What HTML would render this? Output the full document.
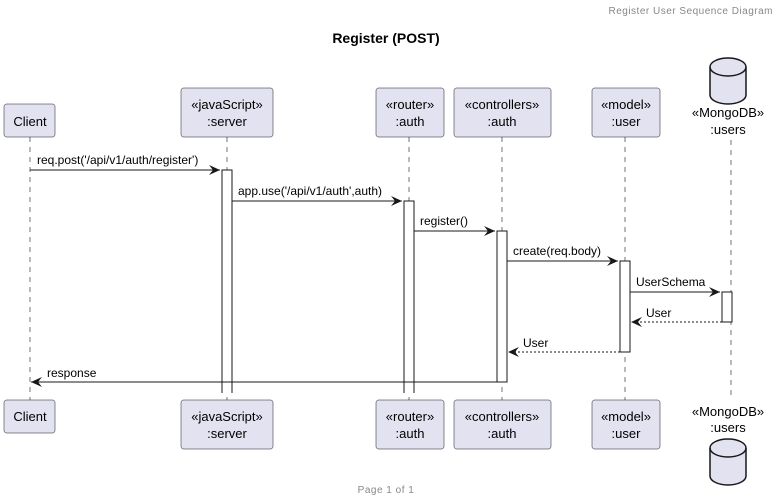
<!DOCTYPE html>
<html><head><meta charset="utf-8"><style>
html,body{margin:0;padding:0;background:#fff;}
svg{display:block;font-family:"Liberation Sans",sans-serif;}
</style></head><body>
<svg width="780" height="502" viewBox="0 0 780 502" xmlns="http://www.w3.org/2000/svg">
<defs>
<marker id="a" markerWidth="12" markerHeight="10" refX="11" refY="5" orient="auto" markerUnits="userSpaceOnUse"><path d="M0,0 L11,5 L0,10 L4,5 Z" fill="#181818"/></marker>
</defs>
<text x="773" y="14" font-size="10" fill="#888" text-anchor="end" letter-spacing="0.5">Register User Sequence Diagram</text>
<text x="386" y="43" font-size="14" font-weight="bold" text-anchor="middle" fill="#000">Register (POST)</text>
<g stroke="#181818" stroke-width="0.6" stroke-dasharray="5,5">
<line x1="30" y1="137" x2="30" y2="400"/>
<line x1="227" y1="137" x2="227" y2="400"/>
<line x1="409" y1="137" x2="409" y2="400"/>
<line x1="502" y1="137" x2="502" y2="400"/>
<line x1="625" y1="137" x2="625" y2="400"/>
<line x1="731" y1="140" x2="731" y2="400"/>
</g>
<g fill="#fff" stroke="#181818" stroke-width="1">
<path d="M222,393 L222,170 L232,170 L232,393"/>
<path d="M404,393 L404,201 L414,201 L414,393"/>
<rect x="497" y="231" width="10" height="151"/>
<rect x="620" y="261" width="10" height="91"/>
<rect x="722" y="292" width="10" height="30"/>
</g>
<g fill="#E2E2F0" stroke="#181818" stroke-width="0.5">
<rect x="4" y="104" width="51" height="33" rx="2.5"/>
<rect x="181" y="88" width="92" height="49" rx="2.5"/>
<rect x="376" y="88" width="68" height="49" rx="2.5"/>
<rect x="454" y="88" width="97" height="49" rx="2.5"/>
<rect x="592" y="88" width="68" height="49" rx="2.5"/>
<rect x="4" y="400" width="51" height="33" rx="2.5"/>
<rect x="181" y="400" width="92" height="49" rx="2.5"/>
<rect x="376" y="400" width="68" height="49" rx="2.5"/>
<rect x="454" y="400" width="97" height="49" rx="2.5"/>
<rect x="592" y="400" width="68" height="49" rx="2.5"/>
</g>
<g fill="#E2E2F0" stroke="#181818" stroke-width="1.5">
<path d="M710,67 A18,9 0 0 1 746,67 L746,95 A18,9 0 0 1 710,95 Z"/>
<path d="M710,67 A18,9 0 0 0 746,67" fill="none"/>
<path d="M710,448 A18,9 0 0 1 746,448 L746,476 A18,9 0 0 1 710,476 Z"/>
<path d="M710,448 A18,9 0 0 0 746,448" fill="none"/>
</g>
<g font-size="13" fill="#000" text-anchor="middle">
<text x="30" y="126">Client</text>
<text x="227" y="109">«javaScript»</text><text x="227" y="126">:server</text>
<text x="410" y="109">«router»</text><text x="410" y="126">:auth</text>
<text x="502" y="109">«controllers»</text><text x="502" y="126">:auth</text>
<text x="626" y="109">«model»</text><text x="626" y="126">:user</text>
<text x="728" y="117">«MongoDB»</text><text x="728" y="134">:users</text>
<text x="30" y="421">Client</text>
<text x="227" y="421">«javaScript»</text><text x="227" y="438">:server</text>
<text x="410" y="421">«router»</text><text x="410" y="438">:auth</text>
<text x="502" y="421">«controllers»</text><text x="502" y="438">:auth</text>
<text x="626" y="421">«model»</text><text x="626" y="438">:user</text>
<text x="728" y="416">«MongoDB»</text><text x="728" y="432">:users</text>
</g>
<g stroke="#181818" stroke-width="1" fill="none">
<line x1="30" y1="170" x2="220" y2="170" marker-end="url(#a)"/>
<line x1="232" y1="201" x2="402" y2="201" marker-end="url(#a)"/>
<line x1="414" y1="231" x2="495" y2="231" marker-end="url(#a)"/>
<line x1="507" y1="261" x2="618" y2="261" marker-end="url(#a)"/>
<line x1="630" y1="292" x2="720" y2="292" marker-end="url(#a)"/>
<line x1="722" y1="322" x2="631" y2="322" stroke-dasharray="2,2" marker-end="url(#a)"/>
<line x1="620" y1="352" x2="508" y2="352" stroke-dasharray="2,2" marker-end="url(#a)"/>
<line x1="497" y1="382" x2="31" y2="382" marker-end="url(#a)"/>
</g>
<g font-size="12" fill="#000">
<text x="37" y="164">req.post('/api/v1/auth/register')</text>
<text x="238" y="195">app.use('/api/v1/auth',auth)</text>
<text x="420" y="225">register()</text>
<text x="513" y="255">create(req.body)</text>
<text x="636" y="286">UserSchema</text>
<text x="646" y="317">User</text>
<text x="523" y="347">User</text>
<text x="47" y="377">response</text>
</g>
<text x="386" y="493" font-size="10" fill="#888" text-anchor="middle" letter-spacing="0.5">Page 1 of 1</text>
</svg>
</body></html>
